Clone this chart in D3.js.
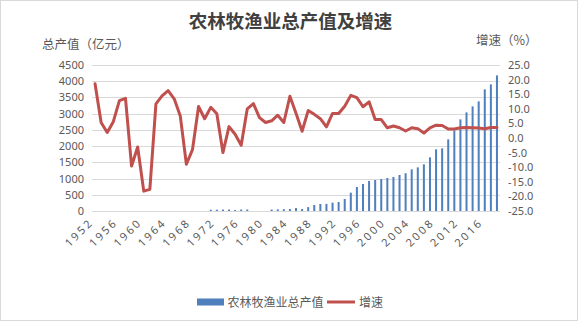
<!DOCTYPE html>
<html>
<head>
<meta charset="utf-8">
<script src="https://cdn.jsdelivr.net/npm/d3@7/dist/d3.min.js"></script>
<style>
  html, body { margin: 0; padding: 0; background: #fff; }
  svg { display: block; }
  text { font-family: "Noto Sans", "Noto Sans CJK SC", sans-serif; fill: #595959; }
  .cjk { font-family: "Noto Sans CJK SC", sans-serif; }
</style>
</head>
<body>
<svg id="chart" width="581" height="322"></svg>
<script>
// 年份
const years = d3.range(1952, 2019);

// 农林牧渔业总产值（亿元），无数据年份为 null
const outputValue = [
  null, null, null, null, null, null, null, null, null, null,   // 1952-1961
  null, null, null, null, null, null, null, null, null,         // 1962-1970
  40, 40, 45, 45, 30, 45, 45,                                   // 1971-1977
  null, null, null,                                             // 1978-1980
  45, 50, 55, 60, 90, 60, 120, 185,                             // 1981-1988
  216, 220, 257, 277, 370, 565, 739, 832, 924, 955, 986,        // 1989-1999
  1017, 1048, 1110, 1165, 1284, 1345, 1438, 1653, 1900, 1931,   // 2000-2009
  2208, 2485, 2824, 3040, 3225, 3379, 3749, 3903, 4180          // 2010-2018
];

// 增速（%）
const growthRate = [
  18.6, 5.3, 1.9, 5.6, 12.8, 13.6, -9.6, -3.1, -18.2, -17.6,    // 1952-1961
  11.7, 14.4, 16.2, 13.4, 7.5, -9.0, -4.0, 10.8, 6.6, 10.5,     // 1962-1971
  8.3, -5.0, 3.9, 1.3, -2.5, 10.0, 11.8, 7.0, 5.3, 5.9,         // 1972-1981
  7.8, 5.3, 14.3, 8.5, 2.3, 9.4, 8.1, 6.6, 3.8, 8.4,            // 1982-1991
  8.4, 10.9, 14.6, 13.8, 10.7, 12.4, 6.3, 6.3, 3.5, 4.1,        // 1992-2001
  3.5, 2.4, 3.5, 3.2, 1.7, 3.5, 4.4, 4.3, 3.1, 3.1,             // 2002-2011
  3.5, 3.6, 3.5, 3.4, 3.2, 3.6, 3.6                             // 2012-2018
];

// 坐标轴刻度
const leftTicks = [0, 500, 1000, 1500, 2000, 2500, 3000, 3500, 4000, 4500];
const rightTicks = [-25, -20, -15, -10, -5, 0, 5, 10, 15, 20, 25];
const xTickYears = years.filter((y, i) => i % 4 === 0);

const titleText = "农林牧渔业总产值及增速";
const leftTitle = "总产值（亿元）";
const rightTitle = "增速（%）";
const seriesNames = ["农林牧渔业总产值", "增速"];

const barColor = "#4f7fbd";
const lineColor = "#c0504d";

const svg = d3.select("#chart");

// 图表外框
svg.append("rect")
  .attr("x", 0.5).attr("y", 0.5)
  .attr("width", 577).attr("height", 320)
  .attr("fill", "#fff")
  .attr("stroke", "#d9d9d9");

const plot = { left: 92, right: 500, top: 65, bottom: 211 };

const x = d3.scaleBand().domain(years).range([plot.left, plot.right]);
const yL = d3.scaleLinear().domain([0, 4500]).range([plot.bottom, plot.top]);
const yR = d3.scaleLinear().domain([-25, 25]).range([plot.bottom, plot.top]);

// 网格线
svg.append("g")
  .selectAll("line")
  .data(leftTicks)
  .join("line")
  .attr("x1", plot.left).attr("x2", plot.right)
  .attr("y1", d => Math.round(yL(d)) + 0.5)
  .attr("y2", d => Math.round(yL(d)) + 0.5)
  .attr("stroke", "#d9d9d9")
  .attr("stroke-width", 1);

// 左轴
const axisL = svg.append("g")
  .attr("transform", `translate(${plot.left},0)`)
  .call(d3.axisLeft(yL).tickValues(leftTicks).tickSize(0).tickPadding(8).tickFormat(d3.format("d")));
axisL.select(".domain").remove();
axisL.selectAll("text").attr("font-size", 11).style("fill", "#595959")
  .style("font-family", '"Noto Sans", sans-serif');

// 右轴
const axisR = svg.append("g")
  .attr("transform", `translate(${plot.right},0)`)
  .call(d3.axisRight(yR).tickValues(rightTicks).tickSize(0).tickPadding(8).tickFormat(d => d.toFixed(1)));
axisR.select(".domain").remove();
axisR.selectAll("text").attr("font-size", 11).style("fill", "#595959")
  .style("font-family", '"Noto Sans", sans-serif');

// 横轴
const axisX = svg.append("g")
  .attr("transform", `translate(0,${plot.bottom})`)
  .call(d3.axisBottom(x).tickValues(xTickYears).tickSize(0).tickPadding(0));
axisX.select(".domain").remove();
axisX.selectAll("text")
  .attr("font-size", 11)
  .attr("letter-spacing", "2.4px")
  .attr("text-anchor", "end")
  .attr("dy", null)
  .attr("y", 0)
  .attr("transform", "translate(-1,12) rotate(-45)")
  .style("fill", "#595959")
  .style("font-family", '"Noto Sans", sans-serif');

// 柱形：总产值
const barW = 2;
svg.append("g")
  .selectAll("rect")
  .data(years.map((yr, i) => ({ yr, v: outputValue[i] })).filter(d => d.v != null))
  .join("rect")
  .attr("x", d => x(d.yr) + x.bandwidth() / 2 - barW / 2)
  .attr("y", d => yL(d.v))
  .attr("width", barW)
  .attr("height", d => yL(0) - yL(d.v))
  .attr("fill", barColor);

// 折线：增速
const line = d3.line()
  .x((d, i) => x(years[i]) + x.bandwidth() / 2)
  .y(d => yR(d));
svg.append("path")
  .datum(growthRate)
  .attr("d", line)
  .attr("fill", "none")
  .attr("stroke", lineColor)
  .attr("stroke-width", 3)
  .attr("stroke-linejoin", "round")
  .attr("stroke-linecap", "round");

// 标题
svg.append("text")
  .attr("class", "cjk")
  .attr("x", 290.5).attr("y", 28)
  .attr("text-anchor", "middle")
  .attr("font-size", 18.5)
  .attr("font-weight", "bold")
  .style("fill", "#404040")
  .text(titleText);

svg.append("text")
  .attr("class", "cjk")
  .attr("x", 42).attr("y", 49)
  .attr("font-size", 12.5)
  .text(leftTitle);

svg.append("text")
  .attr("class", "cjk")
  .attr("x", 476).attr("y", 45)
  .attr("font-size", 12.5)
  .text(rightTitle);

// 图例
const legend = svg.append("g");
legend.append("rect")
  .attr("x", 197).attr("y", 298.5)
  .attr("width", 27).attr("height", 7)
  .attr("fill", barColor);
legend.append("text")
  .attr("class", "cjk")
  .attr("x", 227.5).attr("y", 306.5)
  .attr("font-size", 12)
  .text(seriesNames[0]);
legend.append("line")
  .attr("x1", 327).attr("x2", 355)
  .attr("y1", 302).attr("y2", 302)
  .attr("stroke", lineColor)
  .attr("stroke-width", 3);
legend.append("text")
  .attr("class", "cjk")
  .attr("x", 359).attr("y", 306.5)
  .attr("font-size", 12)
  .text(seriesNames[1]);
</script>
</body>
</html>
